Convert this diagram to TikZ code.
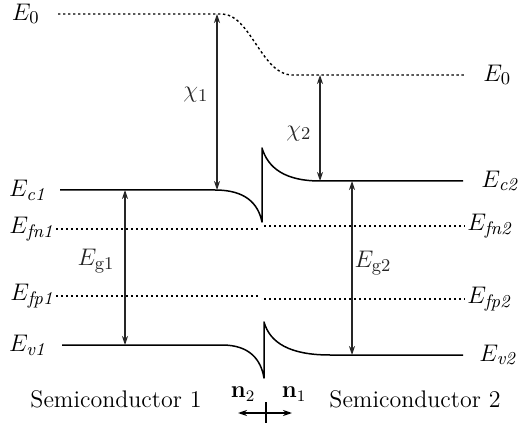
\documentclass[tikz,border=0pt]{standalone}
\usepackage{amsmath}
\usetikzlibrary{arrows.meta}
\tikzset{
  band/.style={line width=0.75pt, line join=round},
  fermi/.style={line width=0.7pt, dash pattern=on 1.2pt off 1.3pt},
  gap/.style={{Stealth[length=4.5pt,width=3pt]}-{Stealth[length=4.5pt,width=3pt]},
              line width=0.55pt, color=black!85},
  lvl/.style={font=\fontsize{13}{15}\selectfont, inner sep=1pt},
  side/.style={font=\fontsize{12}{14}\selectfont, inner sep=0pt},
}

\begin{document}
\begin{tikzpicture}[x=0.5pt, y=-0.5pt]
  \useasboundingbox (0,0) rectangle (519,427);

  % level end points
  \coordinate (vacL) at (58,14);   \coordinate (vacR) at (465,75);
  \coordinate (ecL)  at (60,190);  \coordinate (ecR)  at (463,181);
  \coordinate (fnL)  at (56,229);  \coordinate (fnR)  at (465,226);
  \coordinate (fpL)  at (56,296);  \coordinate (fpR)  at (465,299);
  \coordinate (evL)  at (62,345);  \coordinate (evR)  at (463,355);

  % vacuum level
  \draw[fermi] (vacL) -- (222,14) .. controls (250,14) and (262,75) .. (292,75) -- (vacR);

  % conduction band with notch and spike
  \draw[band] (ecL) -- (215,190) .. controls (245,190) and (258,203) .. (262,222)
    -- (262,148) .. controls (268,168) and (285,181) .. (320,181) -- (ecR);

  % quasi Fermi levels
  \draw[fermi] (fnL) -- (260,229);
  \draw[fermi] (264,226) -- (fnR);
  \draw[fermi] (fpL) -- (260,296);
  \draw[fermi] (264,299) -- (fpR);

  % valence band
  \draw[band] (evL) -- (222,345) .. controls (250,345) and (261,360) .. (264,378)
    -- (264,322) .. controls (270,343) and (290,355) .. (330,355) -- (evR);

  % level labels
  \node[lvl, anchor=east] (e0l)  at ([xshift=-8]vacL) {$E_0$};
  \node[lvl, anchor=east] (ec1)  at ([xshift=-6]ecL)  {$E_{\textit{c1}}$};
  \node[lvl, anchor=east] (efn1) at (fnL)             {$E_{\textit{fn1}}$};
  \node[lvl, anchor=east] (efp1) at (fpL)             {$E_{\textit{fp1}}$};
  \node[lvl, anchor=east] (ev1)  at ([xshift=-7]evL)  {$E_{\textit{v1}}$};
  \node[lvl, anchor=west] (e0r)  at ([xshift=8]vacR)  {$E_0$};
  \node[lvl, anchor=west] (ec2)  at ([xshift=8]ecR)   {$E_{\textit{c2}}$};
  \node[lvl, anchor=west] (efn2) at (fnR)             {$E_{\textit{fn2}}$};
  \node[lvl, anchor=west] (efp2) at (fpR)             {$E_{\textit{fp2}}$};
  \node[lvl, anchor=west] (ev2)  at ([xshift=7]evR)   {$E_{\textit{v2}}$};

  % affinities and gaps
  \coordinate (x1t) at (217,14);  \coordinate (x1b) at (217,190);
  \coordinate (x2t) at (320,75);  \coordinate (x2b) at (320,181);
  \coordinate (g1t) at (125,190); \coordinate (g1b) at (125,345);
  \coordinate (g2t) at (352,181); \coordinate (g2b) at (352,355);
  \draw[gap] (x1t) -- node[lvl, left=3, pos=0.46] (chi1) {$\chi_1$} (x1b);
  \draw[gap] (x2t) -- node[lvl, left=3, pos=0.55] (chi2) {$\chi_2$} (x2b);
  \draw[gap] (g1t) -- node[lvl, left=4, pos=0.46] (eg1) {$E_{\mathrm{g1}}$} (g1b);
  \draw[gap] (g2t) -- node[lvl, right=0, pos=0.47] (eg2) {$E_{\mathrm{g2}}$} (g2b);

  % sides and normals
  \node[side] (sc1) at (116,399) {Semiconductor 1};
  \node[side] (sc2) at (415,399) {Semiconductor 2};
  \node[side] (n2) at (243,394) {$\mathbf{n}_2$};
  \node[side] (n1) at (294,394) {$\mathbf{n}_1$};
  \coordinate (nl) at (238,413); \coordinate (nr) at (292,413);
  \coordinate (nt) at (266,402); \coordinate (nb) at (266,423);
  \draw[gap, color=black, line width=0.7pt] (nl) -- (nr);
  \draw[line width=0.8pt] (nt) -- (nb);
\end{tikzpicture}
\end{document}
